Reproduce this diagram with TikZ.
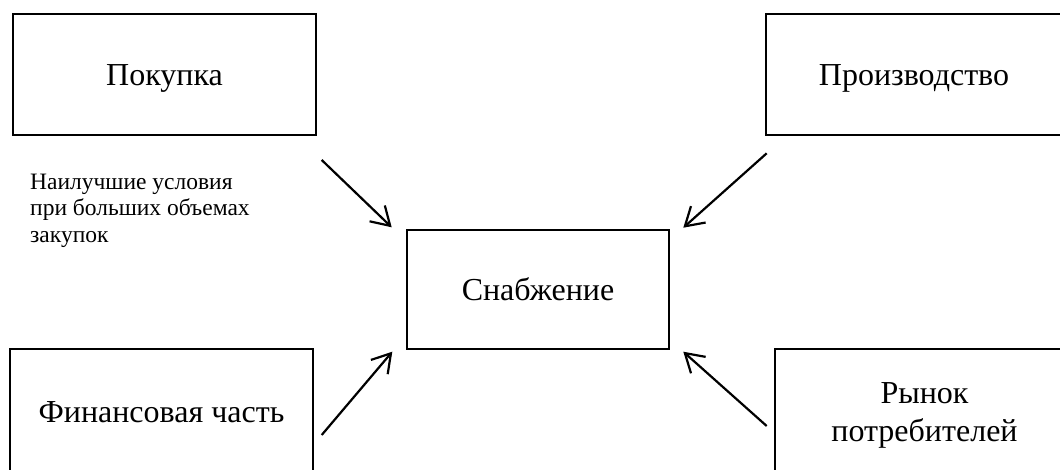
\documentclass[tikz,border=0pt]{standalone}
\usepackage{fontspec}
\setmainfont{Liberation Serif}
\usetikzlibrary{arrows.meta}
\begin{document}
\begin{tikzpicture}[x=1pt,y=-1pt,
  box/.style={draw,line width=2.2pt,rectangle,inner sep=0pt,
    font=\fontsize{32}{38}\selectfont},
  oneline/.style={box,text height=21pt,text depth=0pt},
  twoline/.style={box,align=center},
  link/.style={line width=2.2pt,-{Straight Barb[length=18pt,width=22pt,line width=2.2pt]}},
  note/.style={inner sep=0pt,anchor=north west,align=left,
    font=\fontsize{23.5}{26.5}\selectfont}]
\useasboundingbox (0,0) rectangle (1060,469);
\clip (0,0) rectangle (1060,469);

% Boxes
\node[oneline,minimum width=303pt,minimum height=121pt] (pok)  at (164.5,74.5) {Покупка};
\node[oneline,minimum width=296pt,minimum height=121pt] (prod) at (914,74.5)   {Производство};
\node[oneline,minimum width=262pt,minimum height=119pt] (snab) at (538,289.7)  {Снабжение};
\node[oneline,minimum width=303pt,minimum height=126pt] (fin)  at (161.5,412)  {Финансовая часть};
\node[twoline,minimum width=299pt,minimum height=133pt] (ryn)  at (924.5,415.5) {Рынок\\потребителей};

% Note under the purchase box
\node[note] (cond) at (30,173.5) {Наилучшие условия\\при больших объемах\\закупок};

% Arrow ends
\coordinate (pokT)  at (321.7,160);
\coordinate (pokH)  at (391.7,227.3);
\coordinate (prodT) at (766.7,153.3);
\coordinate (prodH) at (683.3,227.7);
\coordinate (finT)  at (321.7,435);
\coordinate (finH)  at (392.3,351.7);
\coordinate (rynT)  at (766.7,426);
\coordinate (rynH)  at (683.3,351.7);

\draw[link] (pokT)  -- (pokH);
\draw[link] (prodT) -- (prodH);
\draw[link] (finT)  -- (finH);
\draw[link] (rynT)  -- (rynH);
\end{tikzpicture}
\end{document}
